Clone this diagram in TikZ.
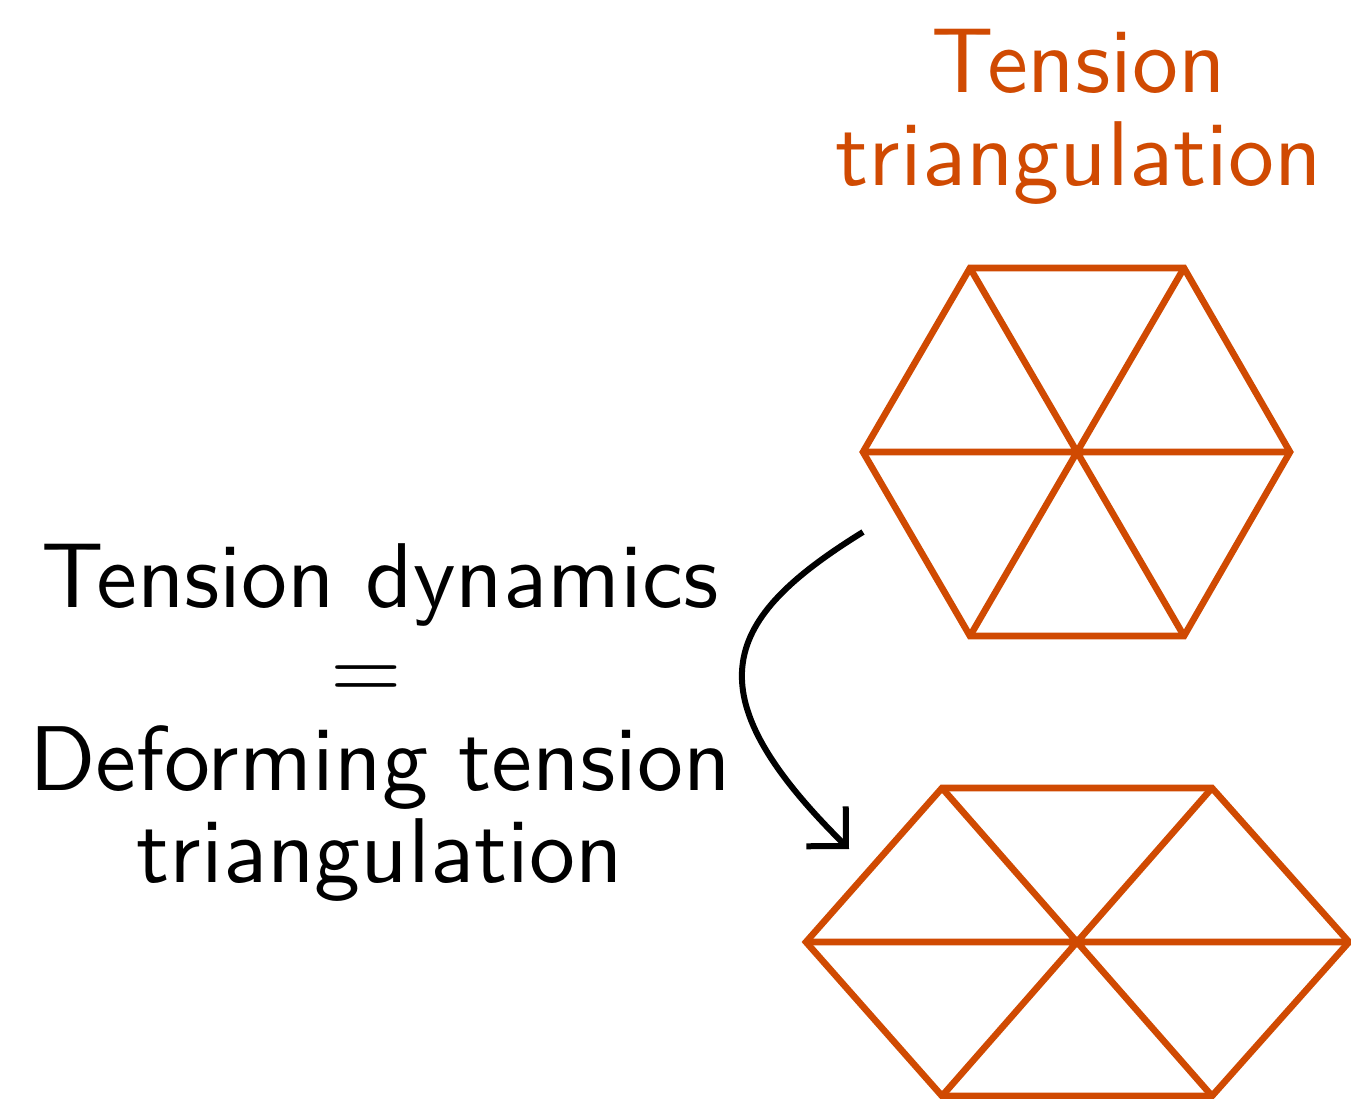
\documentclass[tikz,border=0pt]{standalone}
\usepackage{fontspec}
\usetikzlibrary{arrows.meta}
\newfontfamily\lmsten{lmsans10-regular.otf}
\newfontfamily\lmrten{lmroman10-regular.otf}
\definecolor{tor}{HTML}{D04A02}
\tikzset{
  px/.style={x=0.5pt,y=-0.5pt},
  txt/.style={anchor=base,inner sep=0pt,font=\lmsten\fontsize{46}{47}\selectfont},
  orangetxt/.style={txt,text=tor},
  mesh/.style={draw=tor,line width=3.3pt,line join=miter},
  curvearrow/.style={draw=black,line width=3pt,-{Straight Barb[length=14pt,width=28pt]}}
}
\begin{document}
\begin{tikzpicture}[px]
\useasboundingbox (0,0) rectangle (1351,1099);
% titles
\node[orangetxt] (t1) at (1079,92) {Tension};
\node[orangetxt] (t2) at (1079,185) {triangulation};
\node[txt] (l1) at (380,607) {Tension dynamics};
\node[txt] (l2) at (366,699) {\lmrten =};
\node[txt] (l3) at (380,790) {Deforming tension};
\node[txt] (l4) at (380,882) {triangulation};
% top hexagon
\coordinate (ac) at (1077,452);
\coordinate (a1) at (970,268);
\coordinate (a2) at (1184,268);
\coordinate (a3) at (1290,452);
\coordinate (a4) at (1184,636);
\coordinate (a5) at (970,636);
\coordinate (a6) at (863,452);
\draw[mesh] (a1) -- (a2) -- (a3) -- (a4) -- (a5) -- (a6) -- cycle;
\draw[mesh] (a1) -- (a4) (a2) -- (a5) (a3) -- (a6);
% bottom hexagon
\coordinate (bc) at (1077,942);
\coordinate (b1) at (942,788);
\coordinate (b2) at (1212,788);
\coordinate (b3) at (1349,942);
\coordinate (b4) at (1212,1096);
\coordinate (b5) at (942,1096);
\coordinate (b6) at (806,942);
\draw[mesh] (b1) -- (b2) -- (b3) -- (b4) -- (b5) -- (b6) -- cycle;
\draw[mesh] (b1) -- (b4) (b2) -- (b5) (b3) -- (b6);
% arrow
\coordinate (s) at (863,532);
\coordinate (e) at (849,849);
\draw[curvearrow] (s) .. controls (724,618) and (688,690) .. (e);
\end{tikzpicture}
\end{document}
